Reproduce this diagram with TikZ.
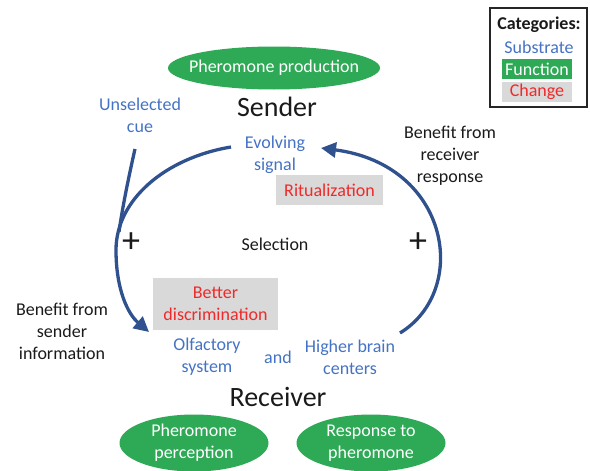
\documentclass[tikz,border=0pt]{standalone}
\usepackage{fontspec}
\setmainfont{Carlito}
\usetikzlibrary{shapes.geometric,arrows.meta}
\definecolor{txtblue}{HTML}{4472C4}
\definecolor{arrblue}{HTML}{2F528F}
\definecolor{fgreen}{HTML}{2EA956}
\definecolor{chred}{HTML}{EE2A2A}
\definecolor{chgray}{HTML}{D9D9D9}
\definecolor{txtblack}{HTML}{1A1A1A}
\tikzset{
  body/.style={font=\fontsize{18}{22}\selectfont, align=center, inner sep=0pt},
  substrate/.style={body, text=txtblue},
  plain/.style={body, text=txtblack},
  change/.style={body, text=chred, fill=chgray, inner sep=0pt},
  funcshape/.style={ellipse, fill=fgreen, inner sep=0pt},
  ftext/.style={body, text=white},
  big/.style={font=\fontsize{28}{30}\selectfont, text=txtblack, inner sep=0pt},
  plussign/.style={font=\fontsize{36}{36}\selectfont, text=txtblack, inner sep=0pt},
  arr/.style={draw=arrblue, line width=3.3pt, -{Triangle[length=15pt,width=15pt]}},
  arrline/.style={draw=arrblue, line width=3.3pt}
}
\begin{document}
\begin{tikzpicture}[x=1pt,y=-1pt]
\useasboundingbox (0,0) rectangle (590,471);
% legend
\draw[line width=1.5pt, draw=black!85] (490,8) rectangle (587,107);
\node[body, font=\fontsize{18}{22}\selectfont\bfseries, text=txtblack] (legtitle) at (539,25) {Categories:};
\node[substrate] (legsub) at (539,47) {Substrate};
\node[body, fill=fgreen, text=white, minimum width=70pt, minimum height=20pt] (legfun) at (537,69) {Function};
\node[change, minimum width=70pt, minimum height=20pt] (legchg) at (537,92) {Change};
% sender side
\node[funcshape, minimum width=212pt, minimum height=43pt] (prod) at (274,68) {};
\node[ftext] (prodtext) at (prod) {Pheromone production};
\node[big] (sender) at (277,107) {Sender};
\node[substrate] (cue) at (140,115) {Unselected\\cue};
\node[substrate] (signal) at (275,155) {Evolving\\signal};
\node[change, minimum width=107pt, minimum height=30pt] (ritual) at (329.5,190) {Ritualization};
\node[plain] (benrec) at (450,156) {Benefit from\\receiver\\response};
\node[plussign] (plusl) at (131,243) {+};
\node[plussign] (plusr) at (418,243) {+};
\node[plain] (selection) at (275,244) {Selection};
% receiver side
\node[change, minimum width=125pt, minimum height=52pt] (discr) at (215.5,304) {Better\\discrimination};
\node[plain] (bensend) at (62,331) {Benefit from\\sender\\information};
\node[substrate] (olf) at (207,357) {Olfactory\\system};
\node[substrate] (and) at (278,357) {and};
\node[substrate] (brain) at (350,357) {Higher brain\\centers};
\node[big] (receiver) at (278,397) {Receiver};
\node[funcshape, minimum width=149pt, minimum height=57pt] (percep) at (194,443) {};
\node[ftext] (perceptext) at (percep) {Pheromone\\perception};
\node[funcshape, minimum width=149pt, minimum height=57pt] (resp) at (371,443) {};
\node[ftext] (resptext) at (resp) {Response to\\pheromone};
% connectors
\coordinate (lstart) at (231,147);
\coordinate (lmid) at (116,250);
\coordinate (ltip) at (149,332);
\coordinate (cuestart) at (135,149);
\coordinate (cueend) at (119,232);
\coordinate (rstart) at (400,333);
\coordinate (rtip) at (321,148);
\draw[arrline] (lstart) .. controls (165,158) and (116,200) .. (lmid);
\draw[arr] (lmid) .. controls (116,290) and (128,314) .. (ltip);
\draw[arrline] (cuestart) .. controls (128,180) and (122,210) .. (cueend);
\draw[arr] (rstart) .. controls (470,290) and (450,165) .. (rtip);
\end{tikzpicture}
\end{document}
